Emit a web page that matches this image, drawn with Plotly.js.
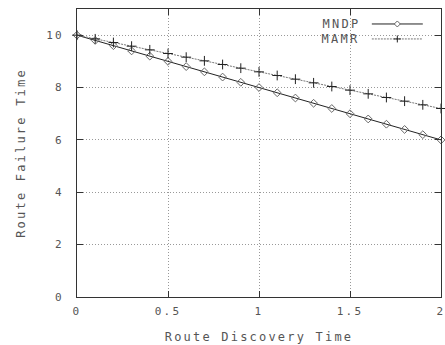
<!DOCTYPE html>
<html>
<head>
<meta charset="utf-8">
<script src="https://cdn.plot.ly/plotly-3.0.1.min.js"></script>
<style>
html,body{margin:0;padding:0;background:#fff;}
#chart{width:445px;height:345px;}
#chart text{letter-spacing:2.2px;}
</style>
</head>
<body>
<div id="chart"></div>
<script>
const discoveryTime = [0,0.1,0.2,0.3,0.4,0.5,0.6,0.7,0.8,0.9,1.0,1.1,1.2,1.3,1.4,1.5,1.6,1.7,1.8,1.9,2.0];
const mndpFailure = [10,9.8,9.6,9.4,9.2,9.0,8.8,8.6,8.4,8.2,8.0,7.8,7.6,7.4,7.2,7.0,6.8,6.6,6.4,6.2,6.0];
const mamrFailure = [10,9.86,9.72,9.58,9.44,9.3,9.16,9.02,8.88,8.74,8.6,8.46,8.32,8.18,8.04,7.9,7.76,7.62,7.48,7.34,7.2];
const seriesNames = ["MNDP","MAMR"];
const xTickVals = [0,0.5,1,1.5,2];
const xTickText = ["0","0.5","1","1.5","2"];
const yTickVals = [0,2,4,6,8,10];
const yTickText = ["0","2","4","6","8","10"];

const fam = "DejaVu Sans Mono, Liberation Mono, monospace";
const font = {family: fam, size: 11, color: "#555"};

const traces = [
  {x: discoveryTime, y: mndpFailure, name: seriesNames[0], mode: "lines+markers",
   line: {color: "#222", width: 1},
   marker: {symbol: "diamond-open", size: 6, color: "#666", line: {width: 1, color: "#666"}},
   cliponaxis: false},
  {x: discoveryTime, y: mamrFailure, name: seriesNames[1], mode: "lines+markers",
   line: {color: "#777", width: 1, dash: "2px,1px"},
   marker: {symbol: "cross-thin-open", size: 7, color: "#222", line: {width: 1, color: "#222"}},
   cliponaxis: false}
];

// legend (gnuplot style: label then sample)
const legX0 = 0.81, legX1 = 0.95, legXm = 0.88, legText = 0.772;
const legY = [0.948, 0.896];
const shapes = [
  {type: "rect", xref: "paper", yref: "paper", x0: 0.685, x1: 1, y0: 0.88, y1: 1,
   fillcolor: "#fff", line: {width: 0}, layer: "between"},
  {type: "line", xref: "paper", yref: "paper", x0: legX0, x1: legX1, y0: legY[0], y1: legY[0],
   line: {color: "#222", width: 1}},
  {type: "path", xref: "paper", yref: "paper", xsizemode: "pixel", ysizemode: "pixel",
   xanchor: legXm, yanchor: legY[0], path: "M-3,0 L0,3 L3,0 L0,-3 Z",
   fillcolor: "#fff", line: {color: "#666", width: 1}},
  {type: "line", xref: "paper", yref: "paper", x0: legX0, x1: legX1, y0: legY[1], y1: legY[1],
   line: {color: "#777", width: 1, dash: "2px,1px"}},
  {type: "path", xref: "paper", yref: "paper", xsizemode: "pixel", ysizemode: "pixel",
   xanchor: legXm, yanchor: legY[1], path: "M-3.5,0 L3.5,0 M0,-3.5 L0,3.5",
   line: {color: "#222", width: 1}}
];
const annotations = seriesNames.map((n, i) => ({
  xref: "paper", yref: "paper", x: legText, y: legY[i], text: n, showarrow: false,
  xanchor: "right", yanchor: "middle", font: {family: fam, size: 12, color: "#555"}
}));

const layout = {
  width: 445, height: 345,
  margin: {l: 77, r: 4, t: 9, b: 48},
  paper_bgcolor: "#fff", plot_bgcolor: "#fff",
  showlegend: false,
  font: font,
  xaxis: {
    range: [0, 2], tickvals: xTickVals, ticktext: xTickText,
    ticks: "inside", ticklen: 6, tickcolor: "#333", mirror: "ticks",
    showline: true, linecolor: "#333", linewidth: 1,
    showgrid: true, gridcolor: "#999", griddash: "1px,2px", gridwidth: 1,
    zeroline: false, tickfont: font, ticklabelstandoff: 4,
    title: {text: "Route Discovery Time", font: {family: fam, size: 12, color: "#555"}, standoff: 15}
  },
  yaxis: {
    range: [0, 11], tickvals: yTickVals, ticktext: yTickText,
    ticks: "inside", ticklen: 6, tickcolor: "#333", mirror: "ticks",
    showline: true, linecolor: "#333", linewidth: 1,
    showgrid: true, gridcolor: "#999", griddash: "1px,2px", gridwidth: 1,
    zeroline: false, tickfont: font, ticklabelstandoff: 10,
    title: {text: "Route Failure Time", font: {family: fam, size: 12, color: "#555"}, standoff: 22}
  },
  shapes: shapes,
  annotations: annotations
};

Plotly.newPlot("chart", traces, layout, {staticPlot: true, displayModeBar: false});
</script>
</body>
</html>
